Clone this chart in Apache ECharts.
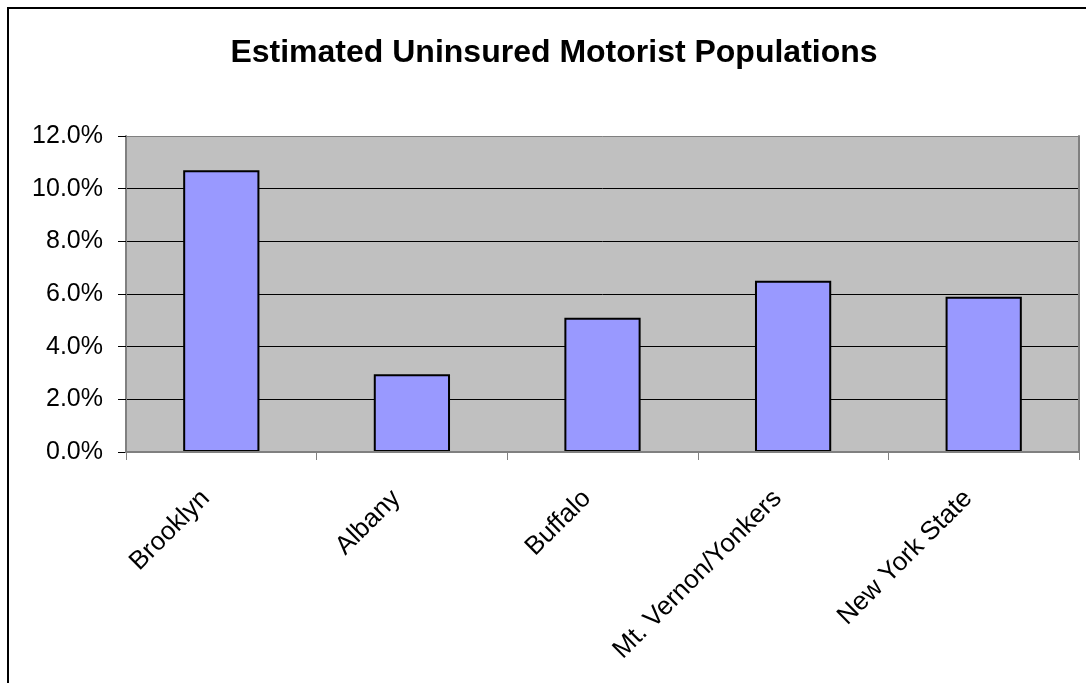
<!DOCTYPE html>
<html>
<head>
<meta charset="utf-8">
<title>Estimated Uninsured Motorist Populations</title>
<script src="https://cdn.jsdelivr.net/npm/echarts@6/dist/echarts.min.js"></script>
<style>
  html, body { margin: 0; padding: 0; background: #ffffff; }
  #chart { width: 1086px; height: 683px; }
</style>
</head>
<body>
<div id="chart"></div>
<script>
// Share of uninsured motorists by area, in percent
const categories = ['Brooklyn', 'Albany', 'Buffalo', 'Mt. Vernon/Yonkers', 'New York State'];
const uninsuredPct = [10.7, 2.95, 5.1, 6.5, 5.9];
const yTicks = { min: 0, max: 12, interval: 2 };

const FONT = "'Liberation Sans', Arial, sans-serif";
const chart = echarts.init(document.getElementById('chart'), null, { renderer: 'canvas' });

chart.setOption({
  backgroundColor: '#ffffff',
  animation: false,
  title: {
    text: 'Estimated Uninsured Motorist Populations',
    left: 549,
    top: 32,
    textAlign: 'center',
    textStyle: { fontFamily: FONT, fontSize: 32, fontWeight: 'bold', color: '#000000' }
  },
  graphic: [{
    // outer chart frame (runs off the right and bottom edges)
    type: 'rect',
    shape: { x: 8, y: 8, width: 1200, height: 800 },
    style: { fill: 'none', stroke: '#000000', lineWidth: 2 },
    silent: true,
    z: 100
  }],
  grid: {
    left: 126, top: 136, right: 7, bottom: 231,
    show: true,
    backgroundColor: '#C0C0C0',
    borderColor: '#808080',
    borderWidth: 0
  },
  xAxis: [{
    type: 'category',
    data: categories,
    position: 'bottom',
    axisLine: { show: true, lineStyle: { color: '#808080', width: 2 } },
    axisTick: { show: true, alignWithLabel: false, length: 8, lineStyle: { color: '#808080', width: 1 } },
    axisLabel: {
      rotate: 45,
      margin: 27,
      padding: [0, 22, 0, 0],
      fontFamily: FONT,
      fontSize: 26,
      color: '#000000',
      interval: 0
    },
    splitLine: { show: false },
    z: 5
  }, {
    // top edge of the plot frame
    type: 'category',
    data: categories,
    position: 'top',
    axisLine: { show: true, lineStyle: { color: '#808080', width: 2 } },
    axisTick: { show: false },
    axisLabel: { show: false },
    splitLine: { show: false },
    z: 5
  }],
  yAxis: [{
    type: 'value',
    min: yTicks.min,
    max: yTicks.max,
    interval: yTicks.interval,
    position: 'left',
    axisLine: { show: true, lineStyle: { color: '#808080', width: 2 } },
    axisTick: { show: true, length: 8, lineStyle: { color: '#000000', width: 1 } },
    axisLabel: {
      margin: 23,
      fontFamily: FONT,
      fontSize: 25,
      color: '#000000',
      formatter: v => v.toFixed(1) + '%'
    },
    // gridlines are black; the outermost ones sit on the grey frame
    splitLine: {
      show: true,
      lineStyle: {
        color: ['#808080', '#000000', '#000000', '#000000', '#000000', '#000000', '#808080'],
        width: 1
      }
    }
  }, {
    // right edge of the plot frame
    type: 'value',
    min: yTicks.min,
    max: yTicks.max,
    interval: yTicks.interval,
    position: 'right',
    axisLine: { show: true, lineStyle: { color: '#808080', width: 2 } },
    axisTick: { show: false },
    axisLabel: { show: false },
    splitLine: { show: false },
    z: 5
  }],
  series: [{
    type: 'bar',
    data: uninsuredPct,
    xAxisIndex: 0,
    yAxisIndex: 0,
    barWidth: '40%',
    itemStyle: { color: '#9999FF', borderColor: '#000000', borderWidth: 2 },
    z: 3
  }]
});
</script>
</body>
</html>
